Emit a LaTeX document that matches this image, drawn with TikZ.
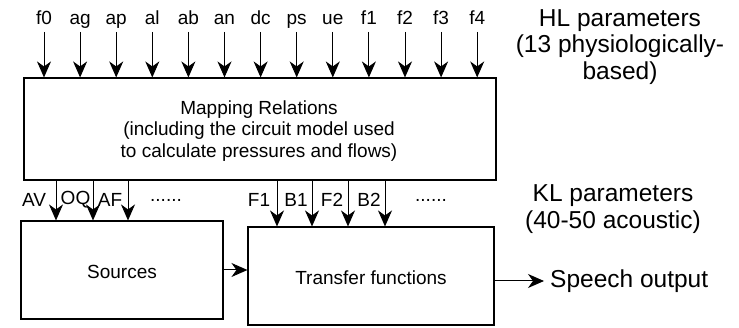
\documentclass[tikz,border=0pt]{standalone}
\usepackage{fontspec}
\setmainfont{Liberation Sans}
\usetikzlibrary{arrows.meta}
\tikzset{
  box/.style={draw, line width=1.1pt, inner sep=0pt},
  arr/.style={line width=1pt, -{Stealth[length=16pt,width=14pt,inset=5pt]}},
  lbl/.style={font=\fontsize{19}{22}\selectfont, inner sep=0pt},
  big/.style={font=\fontsize{24.5}{26.5}\selectfont, align=center, inner sep=0pt},
}
\begin{document}
\begin{tikzpicture}[x=1pt,y=-1pt]
\useasboundingbox (0,0) rectangle (739,328);
% boxes
\node[box, minimum width=472pt, minimum height=102pt] (map) at (260,129) {};
\node[lbl, align=center, font=\fontsize{19}{21.5}\selectfont] (maptxt) at (259,131) {Mapping Relations\\(including the circuit model used\\to calculate pressures and flows)};
\node[box, minimum width=202pt, minimum height=98pt] (src) at (122,270) {};
\node[lbl] (srctxt) at (122,272) {Sources};
\node[box, minimum width=246pt, minimum height=98pt] (tf) at (371,276) {};
\node[lbl] (tftxt) at (371,278) {Transfer functions};
% HL parameters
\foreach \n [count=\i from 0] in {f0,ag,ap,al,ab,an,dc,ps,ue,f1,f2,f3,f4} {
  \node[lbl, anchor=base] (t\i) at (44+36.1*\i, 25) {\n};
  \coordinate (s\i) at (44+36.1*\i, 32);
  \draw[arr] (s\i) -- (s\i |- map.north);
}
\node[big] (hl) at (620,47) {HL parameters\\(13 physiologically-\\based)};
% KL parameters to sources
\foreach \x/\n [count=\i] in {56/AV,93/OQ,128/AF} {
  \coordinate (a\i) at (\x, 180);
  \draw[arr] (a\i) -- (a\i |- src.north);
}
\node[lbl] (lav) at (34,200) {AV};
\node[lbl] (loq) at (75.5,200) {OQ};
\node[lbl] (laf) at (110,200) {AF};
\node[lbl] (dots1) at (166,200) {......};
% KL parameters to transfer functions
\foreach \x [count=\i] in {277,312,348,385} {
  \coordinate (b\i) at (\x, 180);
  \draw[arr] (b\i) -- (b\i |- tf.north);
}
\node[lbl] (lf1) at (259,200) {F1};
\node[lbl] (lb1) at (296,200) {B1};
\node[lbl] (lf2) at (332,200) {F2};
\node[lbl] (lb2) at (369,200) {B2};
\node[lbl] (dots2) at (431,200) {......};
\node[big] (kl) at (613,209) {KL parameters\\(40-50 acoustic)};
% flow
\draw[arr] (src.east) -- (src.east -| tf.west);
\node[big, anchor=west] (out) at (550,281) {Speech output};
\draw[arr, shorten >=6pt] (tf.east |- out.west) -- (out.west);
\end{tikzpicture}
\end{document}
